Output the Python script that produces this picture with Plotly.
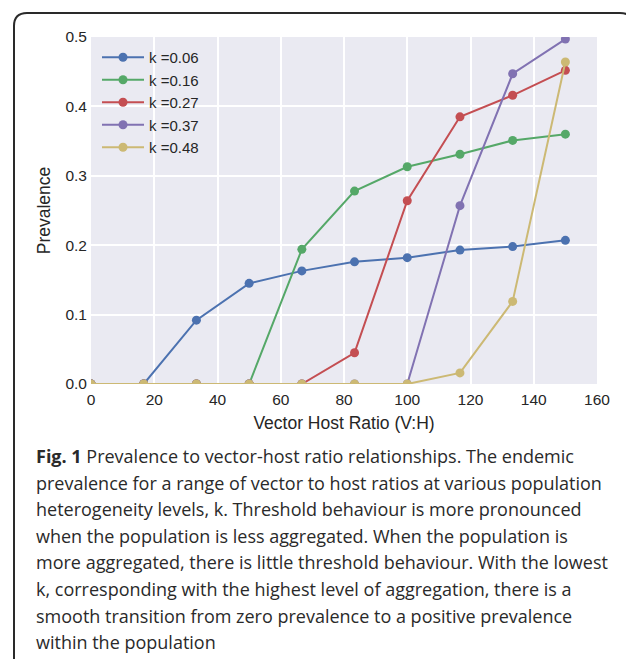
import plotly.graph_objects as go

vh_ratio = [0, 16.67, 33.33, 50, 66.67, 83.33, 100, 116.67, 133.33, 150]
k_labels = ["k =0.06", "k =0.16", "k =0.27", "k =0.37", "k =0.48"]
prev_k006 = [0, 0, 0.092, 0.145, 0.163, 0.176, 0.182, 0.193, 0.198, 0.207]
prev_k016 = [0, 0, 0, 0, 0.194, 0.278, 0.313, 0.331, 0.351, 0.360]
prev_k027 = [0, 0, 0, 0, 0, 0.045, 0.264, 0.385, 0.416, 0.452]
prev_k037 = [0, 0, 0, 0, 0, 0, 0, 0.257, 0.447, 0.497]
prev_k048 = [0, 0, 0, 0, 0, 0, 0, 0.016, 0.119, 0.464]
series = [prev_k006, prev_k016, prev_k027, prev_k037, prev_k048]
colors = ["#4C72B0", "#55A868", "#C44E52", "#8172B2", "#CCB974"]
caption_lines = [
    "<b>Fig. 1</b> Prevalence to vector-host ratio relationships. The endemic",
    "prevalence for a range of vector to host ratios at various population",
    "heterogeneity levels, k. Threshold behaviour is more pronounced",
    "when the population is less aggregated. When the population is",
    "more aggregated, there is little threshold behaviour. With the lowest",
    "k, corresponding with the highest level of aggregation, there is a",
    "smooth transition from zero prevalence to a positive prevalence",
    "within the population",
]

W, H = 634, 659
OFF = 8  # page body offset
L, R, T, B = 91, 597, 37, 384  # plot area in screen px


def px(x, y):
    return (x - L) / (R - L), (B - y) / (B - T)


fig = go.Figure()
for name, vals, c in zip(k_labels, series, colors):
    fig.add_trace(go.Scatter(
        x=vh_ratio, y=vals, name=name, mode="lines+markers",
        line=dict(color=c, width=2), marker=dict(color=c, size=9),
    ))

# rounded border frame
pts = [(14, 670), (14, 26), "Q", (14, 13), (27, 13), (620, 13), "Q", (633, 13), (633, 26), (633, 670)]
path = ""
cmd = "M"
i = 0
while i < len(pts):
    p = pts[i]
    if p == "Q":
        a = px(*pts[i + 1]); b = px(*pts[i + 2])
        path += f" Q{a[0]:.5f},{a[1]:.5f} {b[0]:.5f},{b[1]:.5f}"
        i += 3
        continue
    q = px(*p)
    path += f" {cmd}{q[0]:.5f},{q[1]:.5f}"
    cmd = "L"
    i += 1
fig.add_shape(type="path", path=path.strip(), xref="paper", yref="paper",
              line=dict(color="#2a2a2a", width=2))

for j, line in enumerate(caption_lines):
    cx, cy = px(34, 456 + j * 26.6)
    fig.add_annotation(text=line, xref="paper", yref="paper", x=cx, y=cy,
                       xanchor="left", yanchor="middle", align="left", showarrow=False,
                       font=dict(family="Open Sans", size=18, color="#2a2a2a"))

lx, ly = px(97, 41)
fig.update_layout(
    width=W, height=H,
    margin=dict(l=L - OFF, r=W - (R - OFF), t=T - OFF, b=H - (B - OFF)),
    paper_bgcolor="white", plot_bgcolor="#EAEAF2",
    font=dict(family="Liberation Sans, Arial", color="#262626"),
    showlegend=True,
    legend=dict(x=lx, y=ly, xanchor="left", yanchor="top",
                bgcolor="rgba(0,0,0,0)", font=dict(size=15, color="#262626"),
                tracegroupgap=0, itemwidth=42),
    xaxis=dict(range=[0, 160], dtick=20, tick0=0, showgrid=True, gridcolor="white",
               gridwidth=1.5, zeroline=False, showline=False, ticks="",
               ticklabelstandoff=4,
               tickfont=dict(size=15.5), title=dict(text="Vector Host Ratio (V:H)",
                                                    font=dict(size=17.5), standoff=10)),
    yaxis=dict(range=[0, 0.5], dtick=0.1, tick0=0, tickformat=".1f", showgrid=True,
               gridcolor="white", gridwidth=1.5, zeroline=False, showline=False,
               ticks="", ticklabelstandoff=3, tickfont=dict(size=15.5),
               title=dict(text="Prevalence", font=dict(size=17.5), standoff=10)),
)

fig.write_html("out.html")
